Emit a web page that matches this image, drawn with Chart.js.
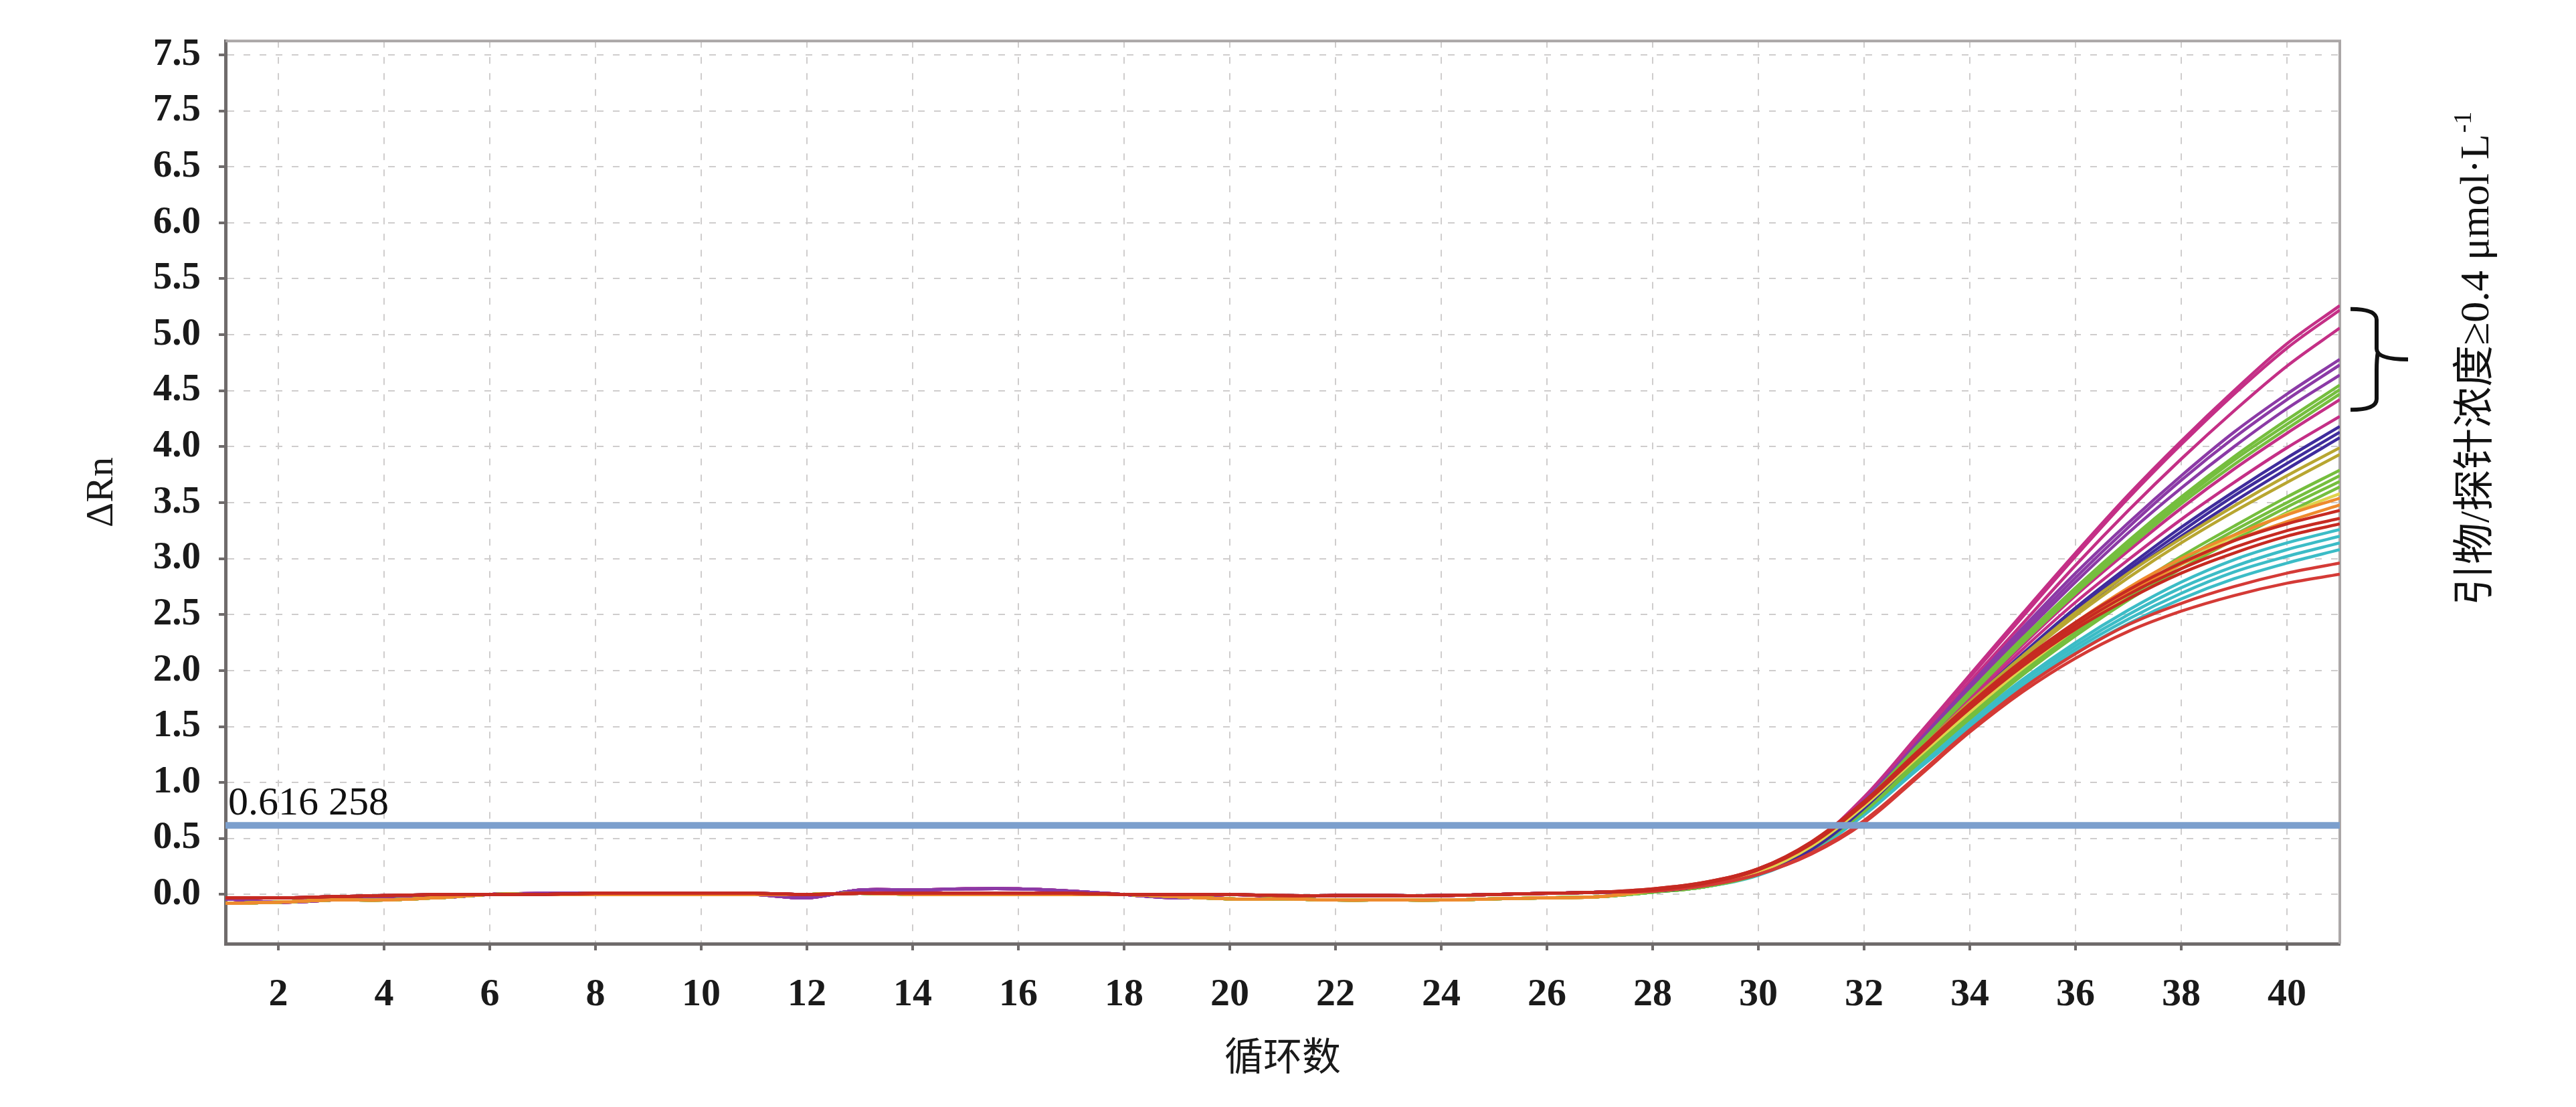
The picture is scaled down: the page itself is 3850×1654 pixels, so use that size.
<!DOCTYPE html>
<html>
<head>
<meta charset="utf-8">
<script src="https://cdn.jsdelivr.net/npm/chart.js@4.4.1/dist/chart.umd.min.js"></script>
<style>
  html, body { margin: 0; padding: 0; background: #fff; }
</style>
</head>
<body>
<canvas id="myChart" width="3850" height="1654"></canvas>
<script>
/* globals Chart:false */

// cycles on the x axis
const cycles = [1, 2, 3, 4, 5, 6, 7, 8, 9, 10, 11, 12, 13, 14, 15, 16, 17, 18, 19, 20,
  21, 22, 23, 24, 25, 26, 27, 28, 29, 30, 31, 32, 33, 34, 35, 36, 37, 38, 39, 40, 41];
const xTickValues = [2, 4, 6, 8, 10, 12, 14, 16, 18, 20, 22, 24, 26, 28, 30, 32, 34, 36, 38, 40];
const yTickValues = [0, 0.5, 1, 1.5, 2, 2.5, 3, 3.5, 4, 4.5, 5, 5.5, 6, 6.5, 7, 7.5];
// labels exactly as printed in the figure (the 7.0 line is printed "7.5")
const yTickLabels = ["0.0", "0.5", "1.0", "1.5", "2.0", "2.5", "3.0", "3.5", "4.0", "4.5",
  "5.0", "5.5", "6.0", "6.5", "7.5", "7.5"];

const threshold = 0.616258;
const thresholdLabel = "0.616 258";

// baseline part, cycles 1-27
const baseRed = [-0.03, -0.03, -0.02, -0.01, 0.0, 0.0, 0.0, 0.01, 0.01, 0.01, 0.01, 0.0, 0.01, 0.01,
  0.01, 0.01, 0.01, 0.0, 0.0, 0.0, -0.01, -0.01, -0.01, -0.01, 0.0, 0.01, 0.02];
const baseMagenta = [-0.04, -0.07, -0.05, -0.02, -0.03, 0.0, 0.01, 0.01, 0.0, 0.0, 0.0, -0.03, 0.04, 0.04,
  0.05, 0.05, 0.03, 0.0, -0.03, 0.0, -0.02, -0.01, -0.01, -0.01, 0.0, 0.01, 0.02];
const baseGreen = [-0.08, -0.07, -0.05, -0.05, -0.03, 0.0, 0.0, 0.0, 0.0, 0.0, 0.0, 0.0, 0.01, 0.0,
  0.0, 0.0, 0.0, 0.0, -0.02, -0.04, -0.04, -0.05, -0.05, -0.05, -0.04, -0.03, -0.02];

// amplification part, cycles 28-41
const redTails = [
  [0.05, 0.11, 0.23, 0.47, 0.83, 1.27, 1.70, 2.09, 2.43, 2.72, 2.96, 3.16, 3.31, 3.43],
  [0.05, 0.11, 0.23, 0.46, 0.82, 1.26, 1.68, 2.07, 2.40, 2.68, 2.91, 3.10, 3.25, 3.36],
  [0.04, 0.10, 0.22, 0.45, 0.81, 1.24, 1.66, 2.04, 2.37, 2.64, 2.87, 3.05, 3.20, 3.31],
];
const lowRedTails = [
  [0.03, 0.08, 0.18, 0.37, 0.66, 1.06, 1.47, 1.84, 2.15, 2.41, 2.60, 2.75, 2.87, 2.96],
  [0.03, 0.08, 0.18, 0.36, 0.64, 1.04, 1.45, 1.81, 2.11, 2.35, 2.53, 2.67, 2.78, 2.86],
];
const orangeTails = [
  [0.04, 0.10, 0.22, 0.46, 0.82, 1.26, 1.69, 2.08, 2.43, 2.74, 3.00, 3.21, 3.39, 3.54],
  [0.04, 0.10, 0.22, 0.45, 0.81, 1.25, 1.67, 2.06, 2.40, 2.70, 2.95, 3.16, 3.33, 3.48],
];
const yellowTails = [
  [0.03, 0.08, 0.20, 0.43, 0.79, 1.22, 1.63, 2.02, 2.37, 2.68, 2.95, 3.20, 3.40, 3.58],
];
const oliveTails = [
  [0.03, 0.08, 0.20, 0.43, 0.81, 1.27, 1.72, 2.13, 2.52, 2.87, 3.18, 3.47, 3.74, 3.99],
  [0.03, 0.08, 0.20, 0.43, 0.80, 1.25, 1.70, 2.11, 2.49, 2.83, 3.14, 3.42, 3.68, 3.93],
];
const greenTails = [
  [0.03, 0.09, 0.21, 0.43, 0.82, 1.32, 1.81, 2.29, 2.74, 3.16, 3.55, 3.91, 4.24, 4.55],
  [0.03, 0.09, 0.20, 0.42, 0.81, 1.31, 1.80, 2.27, 2.72, 3.13, 3.52, 3.88, 4.20, 4.51],
  [0.03, 0.08, 0.20, 0.42, 0.81, 1.30, 1.78, 2.25, 2.69, 3.10, 3.49, 3.84, 4.16, 4.47],
  [0.02, 0.07, 0.19, 0.41, 0.77, 1.20, 1.62, 2.02, 2.39, 2.72, 3.02, 3.29, 3.55, 3.79],
  [0.02, 0.07, 0.19, 0.41, 0.76, 1.19, 1.61, 2.00, 2.36, 2.69, 2.98, 3.25, 3.50, 3.74],
  [0.02, 0.07, 0.19, 0.40, 0.75, 1.17, 1.59, 1.98, 2.34, 2.66, 2.95, 3.21, 3.46, 3.69],
  [0.02, 0.07, 0.18, 0.40, 0.74, 1.16, 1.57, 1.96, 2.31, 2.63, 2.91, 3.17, 3.41, 3.64],
];
const cyanTails = [
  [0.02, 0.07, 0.18, 0.40, 0.74, 1.15, 1.55, 1.92, 2.25, 2.54, 2.79, 2.99, 3.14, 3.26],
  [0.02, 0.07, 0.18, 0.39, 0.73, 1.14, 1.53, 1.90, 2.22, 2.50, 2.74, 2.93, 3.08, 3.20],
  [0.02, 0.07, 0.18, 0.39, 0.72, 1.12, 1.51, 1.87, 2.19, 2.46, 2.69, 2.88, 3.02, 3.14],
  [0.02, 0.07, 0.17, 0.38, 0.71, 1.11, 1.49, 1.85, 2.16, 2.42, 2.64, 2.82, 2.96, 3.08],
];
const indigoTails = [
  [0.03, 0.08, 0.20, 0.41, 0.78, 1.25, 1.71, 2.15, 2.56, 2.93, 3.28, 3.60, 3.90, 4.18],
  [0.03, 0.08, 0.20, 0.41, 0.78, 1.24, 1.70, 2.13, 2.53, 2.90, 3.24, 3.56, 3.85, 4.13],
  [0.03, 0.08, 0.19, 0.40, 0.77, 1.23, 1.68, 2.11, 2.51, 2.87, 3.20, 3.51, 3.80, 4.08],
];
const purpleTails = [
  [0.03, 0.09, 0.21, 0.44, 0.84, 1.35, 1.87, 2.38, 2.87, 3.32, 3.74, 4.13, 4.47, 4.78],
  [0.03, 0.09, 0.21, 0.43, 0.83, 1.34, 1.85, 2.35, 2.83, 3.28, 3.70, 4.08, 4.42, 4.73],
  [0.03, 0.09, 0.21, 0.43, 0.82, 1.32, 1.83, 2.32, 2.79, 3.23, 3.63, 4.00, 4.34, 4.64],
];
const magentaTails = [
  [0.04, 0.10, 0.22, 0.45, 0.87, 1.41, 1.96, 2.51, 3.05, 3.57, 4.05, 4.50, 4.92, 5.26],
  [0.04, 0.10, 0.22, 0.45, 0.86, 1.40, 1.94, 2.48, 3.02, 3.54, 4.02, 4.47, 4.88, 5.22],
  [0.04, 0.10, 0.21, 0.44, 0.85, 1.37, 1.90, 2.42, 2.94, 3.43, 3.89, 4.32, 4.72, 5.06],
  [0.03, 0.09, 0.20, 0.42, 0.80, 1.29, 1.77, 2.23, 2.67, 3.07, 3.45, 3.80, 4.12, 4.42],
  [0.03, 0.09, 0.20, 0.41, 0.79, 1.27, 1.74, 2.19, 2.61, 2.99, 3.35, 3.68, 3.99, 4.27],
];

// the brace marks the group of curves ending between these values
const braceTop = 5.23;
const braceBottom = 4.33;

(() => {
  "use strict";

  const serif = '"Liberation Serif", "Noto Sans CJK SC", serif';

  // first entries are drawn on top
  const groups = [
    { tails: redTails, base: baseRed, color: "#c62a22" },
    { tails: lowRedTails, base: baseRed, color: "#d43a36" },
    { tails: orangeTails, base: baseGreen, color: "#ee8a2e" },
    { tails: yellowTails, base: baseGreen, color: "#e0d34c" },
    { tails: oliveTails, base: baseGreen, color: "#b8a631" },
    { tails: indigoTails, base: baseRed, color: "#3f2c9c" },
    { tails: greenTails, base: baseGreen, color: "#75be3e" },
    { tails: cyanTails, base: baseGreen, color: "#3cbcc6" },
    { tails: purpleTails, base: baseMagenta, color: "#8b3aa6" },
    { tails: magentaTails, base: baseMagenta, color: "#c42f86" },
  ];

  const datasets = [
    {
      data: [
        { x: cycles[0], y: threshold },
        { x: cycles[cycles.length - 1], y: threshold },
      ],
      borderColor: "#7c9fcd",
      borderWidth: 10,
      pointRadius: 0,
      tension: 0,
    },
  ];
  groups.forEach((g) => {
    g.tails.forEach((tail) => {
      const values = g.base.concat(tail);
      datasets.push({
        data: cycles.map((c, i) => ({ x: c, y: values[i] })),
        borderColor: g.color,
        borderWidth: 4.5,
        pointRadius: 0,
        tension: 0.35,
      });
    });
  });

  const extras = {
    id: "extras",
    beforeDatasetsDraw(chart) {
      const { ctx, chartArea: a } = chart;
      ctx.save();
      ctx.strokeStyle = "#aba7a7";
      ctx.lineWidth = 4;
      ctx.beginPath();
      ctx.moveTo(a.left, a.top);
      ctx.lineTo(a.right, a.top);
      ctx.lineTo(a.right, a.bottom);
      ctx.stroke();
      ctx.restore();
    },
    afterDraw(chart) {
      const { ctx, chartArea: a, scales } = chart;
      ctx.save();

      // threshold value
      ctx.fillStyle = "#111";
      ctx.font = "60px " + serif;
      ctx.textAlign = "left";
      ctx.textBaseline = "alphabetic";
      ctx.fillText(thresholdLabel, scales.x.getPixelForValue(cycles[0]) + 4,
        scales.y.getPixelForValue(threshold) - 16);

      // brace
      const yt = scales.y.getPixelForValue(braceTop);
      const yb = scales.y.getPixelForValue(braceBottom);
      const ym = (yt + yb) / 2;
      const xl = a.right + 16;
      const xs = a.right + 55;
      const xp = a.right + 102;
      const r = 16;
      ctx.strokeStyle = "#111";
      ctx.lineWidth = 6;
      ctx.beginPath();
      ctx.moveTo(xl, yt);
      ctx.quadraticCurveTo(xs, yt, xs, yt + r);
      ctx.lineTo(xs, ym - r);
      ctx.quadraticCurveTo(xs, ym, xp, ym);
      ctx.moveTo(xs + 2, ym - r + 4);
      ctx.quadraticCurveTo(xs, ym, xs, ym + r);
      ctx.lineTo(xs, yb - r);
      ctx.quadraticCurveTo(xs, yb, xl, yb);
      ctx.stroke();

      // side note, reading bottom to top
      const main = "引物/探针浓度≥0.4 μmol·L";
      const sup = "-1";
      ctx.font = "62px " + serif;
      const wMain = ctx.measureText(main).width;
      ctx.font = "38px " + serif;
      const wSup = ctx.measureText(sup).width;
      const total = wMain + wSup;
      ctx.translate(a.right + 206, ym + total / 2);
      ctx.rotate(-Math.PI / 2);
      ctx.textBaseline = "middle";
      ctx.font = "62px " + serif;
      ctx.fillText(main, 0, 0);
      ctx.font = "38px " + serif;
      ctx.fillText(sup, wMain + 2, -20);
      ctx.restore();
    },
  };

  const axisColor = "#6f6b6b";
  const gridColor = "#cfcdcd";

  // eslint-disable-next-line no-unused-vars
  const myChart = new Chart(document.getElementById("myChart"), {
    type: "line",
    data: { datasets },
    plugins: [extras],
    options: {
      responsive: false,
      animation: false,
      layout: { padding: { top: 52, right: 353, left: 0, bottom: 0 } },
      plugins: {
        legend: { display: false },
        tooltip: { enabled: false },
      },
      scales: {
        x: {
          type: "linear",
          min: 1,
          max: 41,
          afterBuildTicks: (scale) => {
            scale.ticks = xTickValues.map((v) => ({ value: v }));
          },
          afterFit: (scale) => {
            scale.height = 244;
          },
          grid: {
            color: gridColor,
            lineWidth: 2,
            tickLength: 10,
            tickColor: axisColor,
            tickWidth: 4,
          },
          border: { color: axisColor, width: 5, dash: [10, 14] },
          ticks: {
            color: "#1a1a1a",
            padding: 32,
            maxRotation: 0,
            autoSkip: false,
            font: { family: serif, size: 58, weight: "bold" },
          },
          title: {
            display: true,
            text: "循环数",
            color: "#1a1a1a",
            padding: { top: 0, bottom: 35 },
            font: { family: serif, size: 58 },
          },
        },
        y: {
          min: -0.44,
          max: 7.624,
          afterBuildTicks: (scale) => {
            scale.ticks = yTickValues.map((v) => ({ value: v }));
          },
          afterFit: (scale) => {
            scale.width = 337;
          },
          grid: {
            color: gridColor,
            lineWidth: 2,
            tickLength: 10,
            tickColor: axisColor,
            tickWidth: 4,
          },
          border: { color: axisColor, width: 5, dash: [10, 14] },
          ticks: {
            color: "#1a1a1a",
            padding: 27,
            font: { family: serif, size: 57, weight: "bold" },
            callback: (value) => {
              const i = yTickValues.indexOf(value);
              return i >= 0 ? yTickLabels[i] : "";
            },
          },
          title: {
            display: true,
            text: "ΔRn",
            color: "#1a1a1a",
            padding: { top: 118, bottom: 0 },
            font: { family: serif, size: 58 },
          },
        },
      },
    },
  });
})();
</script>
</body>
</html>
